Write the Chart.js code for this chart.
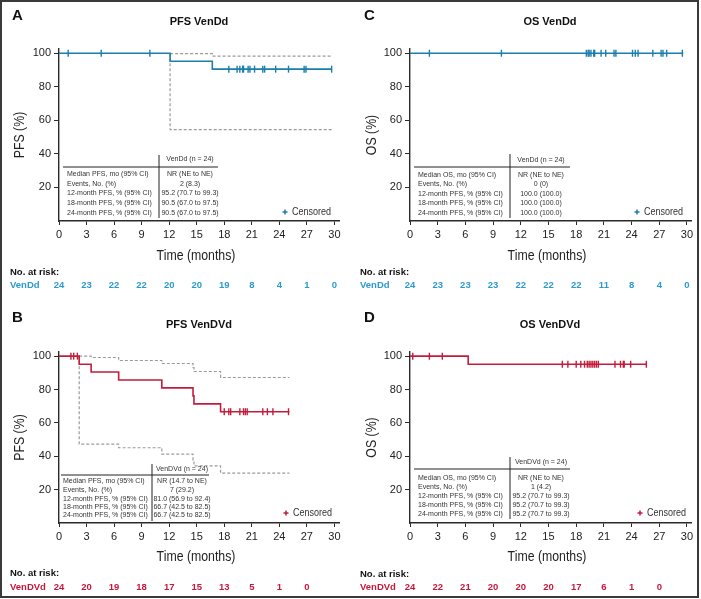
<!DOCTYPE html>
<html>
<head>
<meta charset="utf-8">
<script src="https://cdn.jsdelivr.net/npm/chart.js@4.4.0/dist/chart.umd.min.js"></script>
<style>
  html, body { margin: 0; padding: 0; background: #fff; }
  #frame { position: absolute; left: 0; top: 0; width: 699px; height: 598px; box-sizing: border-box; border: 2px solid #3a3a3a; }
  .panel { position: absolute; }
</style>
</head>
<body>
<div id="frame"></div>
<div class="panel" style="left:0;top:0;width:350px;height:300px"><canvas id="chartA"></canvas></div>
<div class="panel" style="left:0;top:300px;width:350px;height:299px"><canvas id="chartB"></canvas></div>
<div class="panel" style="left:350px;top:0;width:350px;height:300px"><canvas id="chartC"></canvas></div>
<div class="panel" style="left:350px;top:300px;width:350px;height:299px"><canvas id="chartD"></canvas></div>
<script>
// ===================================================
// KAPLAN-MEIER PANELS – VenDd / VenDVd
// ===================================================

const BLUE = '#1b7eab';
const BLUE_TXT = '#2a9ad2';
const RED = '#c21d3c';
const RED_TXT = '#c8173a';
const CI_GRAY = '#9a9a9a';
const AXIS = '#2a2a2a';
const FONT = '"Liberation Sans", Arial, sans-serif';

const riskMonths = [0, 3, 6, 9, 12, 15, 18, 21, 24, 27, 30];

// ── A. PFS VenDd ───────────────────────────────────
const pfsA_time = [0, 12.1, 16.7, 29.7];
const pfsA_surv = [100, 95.2, 90.5, 90.5];
const pfsA_upperTime = [12.1, 16.7, 29.7];
const pfsA_upper = [99.8, 98.3, 98.3];
const pfsA_lowerTime = [12.1, 12.1, 29.7];
const pfsA_lower = [100, 54.5, 54.5];
const pfsA_censor = [1.0, 4.6, 9.9, 18.5, 19.4, 19.7, 20.0, 20.1, 20.6, 20.8, 21.3, 22.2, 22.4, 23.6, 25.0, 26.7, 26.9, 29.7];
const pfsA_atRisk = [24, 23, 22, 22, 20, 20, 19, 8, 4, 1, 0];
const pfsA_table = [
  ['Median PFS, mo (95% CI)', 'NR (NE to NE)'],
  ['Events, No. (%)', '2 (8.3)'],
  ['12-month PFS, % (95% CI)', '95.2 (70.7 to 99.3)'],
  ['18-month PFS, % (95% CI)', '90.5 (67.0 to 97.5)'],
  ['24-month PFS, % (95% CI)', '90.5 (67.0 to 97.5)'],
];

// ── B. PFS VenDVd ──────────────────────────────────
const pfsB_time = [0, 2.2, 3.5, 6.5, 11.2, 14.6, 14.7, 17.6, 25.1];
const pfsB_surv = [100, 95.2, 90.5, 85.7, 81.0, 76.2, 71.4, 66.7, 66.7];
const pfsB_upperTime = [2.2, 3.5, 6.5, 11.2, 14.6, 14.7, 17.6, 25.1];
const pfsB_upper = [100, 99.2, 97.4, 95.6, 93.2, 90.8, 87.2, 87.2];
const pfsB_lowerTime = [2.2, 2.2, 6.5, 11.2, 14.6, 14.7, 17.6, 25.1];
const pfsB_lower = [100, 47.3, 45.1, 41.3, 37.7, 34.3, 29.9, 29.9];
const pfsB_censor = [1.3, 1.6, 2.0, 18.0, 18.5, 18.7, 19.7, 20.1, 20.3, 20.5, 22.2, 22.7, 23.3, 25.0];
const pfsB_atRisk = [24, 20, 19, 18, 17, 15, 13, 5, 1, 0];
const pfsB_table = [
  ['Median PFS, mo (95% CI)', 'NR (14.7 to NE)'],
  ['Events, No. (%)', '7 (29.2)'],
  ['12-month PFS, % (95% CI)', '81.0 (56.9 to 92.4)'],
  ['18-month PFS, % (95% CI)', '66.7 (42.5 to 82.5)'],
  ['24-month PFS, % (95% CI)', '66.7 (42.5 to 82.5)'],
];

// ── C. OS VenDd ────────────────────────────────────
const osC_time = [0, 29.6];
const osC_surv = [100, 100];
const osC_censor = [2.1, 9.9, 19.1, 19.3, 19.4, 19.6, 19.9, 20.0, 20.7, 21.2, 22.1, 22.3, 24.1, 24.4, 24.7, 26.3, 27.2, 27.4, 27.8, 29.5];
const osC_atRisk = [24, 23, 23, 23, 22, 22, 22, 11, 8, 4, 0];
const osC_table = [
  ['Median OS, mo (95% CI)', 'NR (NE to NE)'],
  ['Events, No. (%)', '0 (0)'],
  ['12-month PFS, % (95% CI)', '100.0 (100.0)'],
  ['18-month PFS, % (95% CI)', '100.0 (100.0)'],
  ['24-month PFS, % (95% CI)', '100.0 (100.0)'],
];

// ── D. OS VenDVd ───────────────────────────────────
const osD_time = [0, 6.3, 25.6];
const osD_surv = [100, 95.2, 95.2];
const osD_censor = [0.3, 2.1, 3.5, 16.5, 17.1, 18.0, 18.5, 18.9, 19.2, 19.4, 19.6, 19.8, 20.0, 20.2, 20.4, 22.2, 22.8, 23.1, 23.2, 23.9, 25.6];
const osD_atRisk = [24, 22, 21, 20, 20, 20, 17, 6, 1, 0];
const osD_table = [
  ['Median OS, mo (95% CI)', 'NR (NE to NE)'],
  ['Events, No. (%)', '1 (4.2)'],
  ['12-month PFS, % (95% CI)', '95.2 (70.7 to 99.3)'],
  ['18-month PFS, % (95% CI)', '95.2 (70.7 to 99.3)'],
  ['24-month PFS, % (95% CI)', '95.2 (70.7 to 99.3)'],
];

// ── helpers ────────────────────────────────────────
const toPoints = (xs, ys) => xs.map((x, i) => ({ x, y: ys[i] }));

function survAt(times, surv, t) {
  let v = surv[0];
  for (let i = 0; i < times.length; i++) if (times[i] <= t) v = surv[i];
  return v;
}

// condensed text (no narrow font installed -> squeeze horizontally)
function narrowText(c, text, x, y, size, align, rot) {
  c.save();
  c.translate(x, y);
  if (rot) c.rotate(rot);
  c.scale(0.82, 1);
  c.font = `${size}px ${FONT}`;
  c.textAlign = align;
  c.fillText(text, 0, 0);
  c.restore();
}

function decorPlugin(p) {
  return {
    id: 'decor' + p.letter,
    afterDraw(chart) {
      const c = chart.ctx;
      const xs = chart.scales.x;
      const area = chart.chartArea;
      c.save();
      c.textBaseline = 'middle';

      // letter + title
      c.fillStyle = '#111';
      c.textAlign = 'left';
      c.font = `bold 15px ${FONT}`;
      c.fillText(p.letter, p.letterX, p.letterY);
      c.textAlign = 'center';
      c.font = `bold 11px ${FONT}`;
      c.fillText(p.title, p.titleX, p.titleY);

      // axis titles
      c.fillStyle = '#222';
      narrowText(c, 'Time (months)', p.xTitleX, p.xTitleY, 15, 'center');
      narrowText(c, p.yTitle, p.yTitleX, (area.top + area.bottom) / 2, 15, 'center', -Math.PI / 2);

      // table
      const t = p.table;
      c.strokeStyle = '#222';
      c.lineWidth = 1;
      c.beginPath();
      c.moveTo(t.x0, t.hy); c.lineTo(t.x1, t.hy);
      c.moveTo(t.vx, t.vy0); c.lineTo(t.vx, t.vy1);
      c.stroke();
      c.font = `7px ${FONT}`;
      c.fillStyle = '#333';
      c.textAlign = 'center';
      c.fillText(p.header, t.colX, t.headY);
      p.rows.forEach((r, i) => {
        c.textAlign = 'left';
        c.fillText(r[0], t.leftX, t.rowY[i]);
        c.textAlign = 'center';
        c.fillText(r[1], t.colX, t.rowY[i]);
      });

      // censored legend
      c.strokeStyle = p.color;
      c.lineWidth = 1.5;
      c.beginPath();
      c.moveTo(p.legX - 2.5, p.legY); c.lineTo(p.legX + 2.5, p.legY);
      c.moveTo(p.legX, p.legY - 2.5); c.lineTo(p.legX, p.legY + 2.5);
      c.stroke();
      c.fillStyle = '#333';
      narrowText(c, 'Censored', p.legX + 7, p.legY, 11, 'left');

      // number at risk
      c.fillStyle = '#111';
      c.textAlign = 'left';
      c.font = `bold 9.5px ${FONT}`;
      c.fillText('No. at risk:', 10, p.riskHeadY);
      c.fillStyle = p.textColor;
      c.fillText(p.arm, 10, p.riskY);
      c.textAlign = 'center';
      p.atRisk.forEach((n, i) => {
        c.fillText(String(n), xs.getPixelForValue(riskMonths[i]), p.riskY);
      });
      c.restore();
    }
  };
}

function makePanel(id, p) {
  const datasets = [
    {
      label: 'Censored',
      data: p.censor.map(t => ({ x: t, y: survAt(p.time, p.surv, t) })),
      showLine: false,
      pointStyle: 'line',
      rotation: 90,
      pointRadius: 3.5,
      borderWidth: 1.4,
      borderColor: p.color,
      backgroundColor: p.color,
    },
    {
      label: 'Survival',
      data: toPoints(p.time, p.surv),
      stepped: 'before',
      borderColor: p.color,
      borderWidth: 1.6,
      pointRadius: 0,
      fill: false,
    },
  ];
  if (p.upperTime) {
    [[p.upperTime, p.upper], [p.lowerTime, p.lower]].forEach(([xs, ys]) => {
      datasets.push({
        label: 'CI',
        data: toPoints(xs, ys),
        stepped: 'before',
        borderColor: CI_GRAY,
        borderWidth: 1.2,
        borderDash: [3, 2],
        pointRadius: 0,
        fill: false,
      });
    });
  }

  return new Chart(document.getElementById(id), {
    type: 'line',
    data: { datasets },
    options: {
      responsive: true,
      maintainAspectRatio: false,
      animation: false,
      layout: { padding: p.padding },
      plugins: { legend: { display: false }, tooltip: { enabled: false } },
      scales: {
        x: {
          type: 'linear', min: 0, max: 30.5,
          afterFit: s => { s.height = 20; },
          border: { display: true, color: AXIS, width: 1.4 },
          grid: { drawOnChartArea: false, drawTicks: true, tickLength: 4, color: AXIS, lineWidth: 1 },
          ticks: { stepSize: 3, includeBounds: false, autoSkip: false, maxRotation: 0, padding: 3,
                   font: { size: 11, family: FONT }, color: '#222' }
        },
        y: {
          type: 'linear', min: 0, max: 102.5,
          afterFit: s => { s.width = 39; },
          border: { display: true, color: AXIS, width: 1.4 },
          grid: { drawOnChartArea: false, drawTicks: true, tickLength: 5,
                  color: ctx => ctx.tick && ctx.tick.value === 0 ? 'rgba(0,0,0,0)' : AXIS, lineWidth: 1 },
          ticks: { stepSize: 20, includeBounds: false, padding: 3,
                   font: { size: 11, family: FONT }, color: '#222',
                   callback: v => (v === 0 ? '' : v) }
        }
      }
    },
    plugins: [decorPlugin(p)]
  });
}

const topTable = {
  x0: 63, x1: 218, hy: 167, vx: 159, vy0: 155, vy1: 218,
  colX: 190, headY: 159.5, leftX: 67, rowY: [174.3, 183.7, 193.3, 203, 212.7]
};

makePanel('chartA', {
  letter: 'A', letterX: 12, letterY: 16, title: 'PFS VenDd', titleX: 199, titleY: 22,
  yTitle: 'PFS (%)', yTitleX: 20, xTitleX: 196, xTitleY: 256,
  padding: { left: 20, top: 49, right: 11, bottom: 59 },
  color: BLUE, textColor: BLUE_TXT, arm: 'VenDd',
  time: pfsA_time, surv: pfsA_surv, censor: pfsA_censor,
  upperTime: pfsA_upperTime, upper: pfsA_upper, lowerTime: pfsA_lowerTime, lower: pfsA_lower,
  atRisk: pfsA_atRisk, riskHeadY: 272, riskY: 285,
  header: 'VenDd (n = 24)', rows: pfsA_table, table: topTable,
  legX: 285, legY: 212
});

makePanel('chartB', {
  letter: 'B', letterX: 12, letterY: 18, title: 'PFS VenDVd', titleX: 199, titleY: 25,
  yTitle: 'PFS (%)', yTitleX: 20, xTitleX: 196, xTitleY: 257,
  padding: { left: 20, top: 52, right: 11, bottom: 56 },
  color: RED, textColor: RED_TXT, arm: 'VenDVd',
  time: pfsB_time, surv: pfsB_surv, censor: pfsB_censor,
  upperTime: pfsB_upperTime, upper: pfsB_upper, lowerTime: pfsB_lowerTime, lower: pfsB_lower,
  atRisk: pfsB_atRisk, riskHeadY: 273, riskY: 287,
  header: 'VenDVd (n = 24)', rows: pfsB_table,
  table: { x0: 61, x1: 209, hy: 175, vx: 152, vy0: 164, vy1: 221,
           colX: 182, headY: 169, leftX: 63, rowY: [181, 190.3, 198.8, 207, 215.5] },
  legX: 286, legY: 213
});

makePanel('chartC', {
  letter: 'C', letterX: 14, letterY: 16, title: 'OS VenDd', titleX: 200, titleY: 22,
  yTitle: 'OS (%)', yTitleX: 22, xTitleX: 197, xTitleY: 256,
  padding: { left: 21, top: 49, right: 8.4, bottom: 59 },
  color: BLUE, textColor: BLUE_TXT, arm: 'VenDd',
  time: osC_time, surv: osC_surv, censor: osC_censor,
  atRisk: osC_atRisk, riskHeadY: 272, riskY: 285,
  header: 'VenDd (n = 24)', rows: osC_table,
  table: { x0: 64, x1: 220, hy: 167, vx: 160, vy0: 154, vy1: 218,
           colX: 191, headY: 160.5, leftX: 68, rowY: [174.7, 183.7, 193.7, 203.3, 212.7] },
  legX: 287, legY: 212
});

makePanel('chartD', {
  letter: 'D', letterX: 14, letterY: 18, title: 'OS VenDVd', titleX: 200, titleY: 25,
  yTitle: 'OS (%)', yTitleX: 22, xTitleX: 197, xTitleY: 257,
  padding: { left: 21, top: 52, right: 8.4, bottom: 56 },
  color: RED, textColor: RED_TXT, arm: 'VenDVd',
  time: osD_time, surv: osD_surv, censor: osD_censor,
  atRisk: osD_atRisk, riskHeadY: 274, riskY: 287,
  header: 'VenDVd (n = 24)', rows: osD_table,
  table: { x0: 64, x1: 220, hy: 169, vx: 160, vy0: 157, vy1: 219,
           colX: 191, headY: 161.7, leftX: 68, rowY: [178.3, 187.3, 196, 205, 214.3] },
  legX: 290, legY: 213
});
</script>
</body>
</html>
